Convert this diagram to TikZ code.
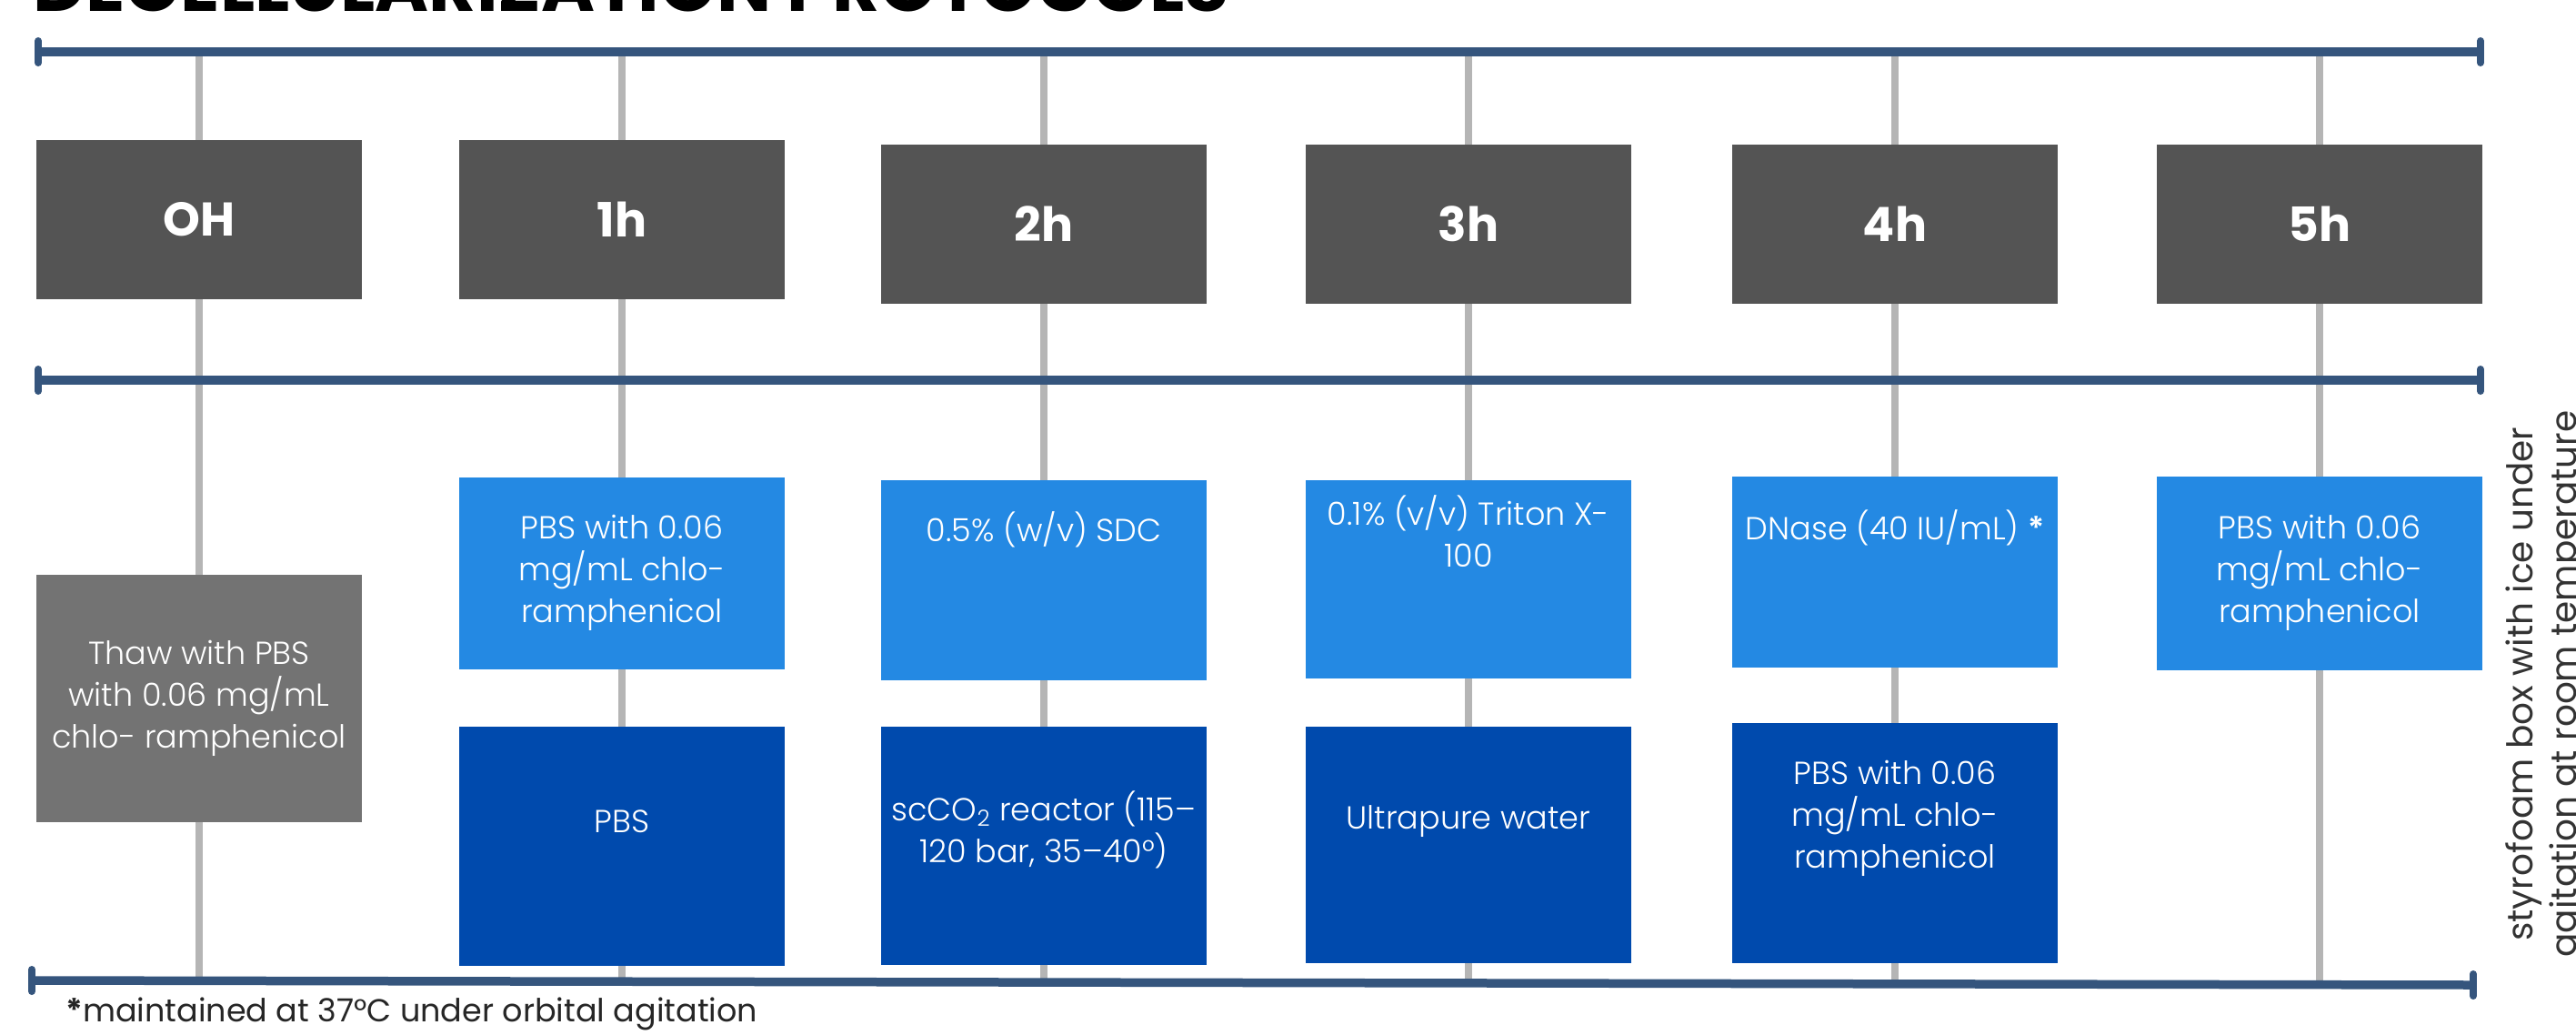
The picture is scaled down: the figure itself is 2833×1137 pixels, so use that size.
\documentclass[tikz,border=0pt]{standalone}
\usepackage{fontspec}
\setmainfont{Poppins}
\newfontfamily\lightfont{Poppins Light}
\usetikzlibrary{positioning}

\definecolor{barblue}{RGB}{53,85,125}
\definecolor{stemgray}{RGB}{181,181,181}
\definecolor{hourgray}{RGB}{84,84,84}
\definecolor{thawgray}{RGB}{115,115,115}
\definecolor{washblue}{RGB}{36,137,227}
\definecolor{deepblue}{RGB}{0,74,173}

\tikzset{
    bar/.style={barblue,line width=4.75pt},
    barend/.style={barblue,line width=4pt,line cap=round},
    stem/.style={stemgray,line width=4pt},
    hourbox/.style={fill=hourgray,text=white,inner sep=0pt,
        minimum width=179pt,minimum height=87.5pt,
        font=\bfseries\fontsize{26}{30}\selectfont},
    stepbox/.style={inner sep=0pt,minimum width=179pt,minimum height=#1},
    boxtext/.style={text=white,align=center,inner sep=0pt,
        font=\lightfont\fontsize{17.5}{23}\selectfont},
}

\begin{document}
\begin{tikzpicture}[x=0.5pt,y=-0.5pt]
    \path[use as bounding box,fill=white] (0,0) rectangle (2833,1137);
    \clip (0,0) rectangle (2833,1137);

    % ends of the three bars
    \coordinate (topL) at (42,57);   \coordinate (topR) at (2728,57);
    \coordinate (midL) at (42,418);  \coordinate (midR) at (2728,418);
    \coordinate (botL) at (35,1078); \coordinate (botR) at (2720,1083);

    % one column per hour
    \foreach \n/\x in {0/219,1/684,2/1148,3/1615,4/2084,5/2551}
        \coordinate (c\n) at (\x,0);

    \foreach \n in {0,...,5}
        \draw[stem] (c\n |- topL) -- (c\n |- botR);

    \foreach \a/\b in {topL/topR,midL/midR,botL/botR}{
        \draw[bar] (\a) -- (\b);
        \draw[barend] ([yshift=6pt]\a) -- ([yshift=-6pt]\a);
        \draw[barend] ([yshift=6pt]\b) -- ([yshift=-6pt]\b);
    }

    \node[anchor=base west,inner sep=0pt,font=\bfseries\fontsize{40}{44}\selectfont]
        (title) at (36,12) {DECELLULARIZATION PROTOCOLS};

    % hours
    \foreach \n/\y/\t in {0/241/OH,1/241/1h,2/246/2h,3/246/3h,4/246/4h,5/246/5h}
        \node[hourbox] (h\n) at (c\n |- 0,\y) {\t};

    % 0h
    \node[stepbox=136pt,fill=thawgray,boxtext] (thaw) at (c0 |- 0,768)
        {Thaw with PBS\\with 0.06 mg/mL\\chlo- ramphenicol};

    % first solution
    \node[stepbox=105.5pt,fill=washblue,boxtext] (w1) at (c1 |- 0,630)
        {PBS with 0.06\\mg/mL chlo-\\ramphenicol};
    \node[stepbox=110pt,fill=washblue] (w2) at (c2 |- 0,638) {};
    \node[stepbox=109pt,fill=washblue] (w3) at (c3 |- 0,637) {};
    \node[stepbox=105pt,fill=washblue] (w4) at (c4 |- 0,629) {};
    \node[stepbox=106.5pt,fill=washblue,boxtext] (w5) at (c5 |- 0,630)
        {PBS with 0.06\\mg/mL chlo-\\ramphenicol};
    \node[boxtext] (w2txt) at (c2 |- 0,582) {0.5\% (w/v) SDC};
    \node[boxtext] (w3txt) at (c3 |- 0,584) {0.1\% (v/v) Triton X-\\100};
    \node[boxtext] (w4txt) at (c4 |- 0,580) {DNase (40 IU/mL) \textbf{*}};

    % second solution
    \node[stepbox=131.5pt,fill=deepblue] (r1) at (c1 |- 0,930) {};
    \node[stepbox=131pt,fill=deepblue] (r2) at (c2 |- 0,930) {};
    \node[stepbox=130pt,fill=deepblue] (r3) at (c3 |- 0,929) {};
    \node[stepbox=132pt,fill=deepblue] (r4) at (c4 |- 0,927) {};
    \node[boxtext] (r1txt) at (c1 |- 0,903) {PBS};
    \node[boxtext] (r2txt) at (c2 |- 0,912) {scCO\textsubscript{2} reactor (115–\\120 bar, 35–40°)};
    \node[boxtext] (r3txt) at (c3 |- 0,903) {Ultrapure water};
    \node[boxtext] (r4txt) at (c4 |- 0,900) {PBS with 0.06\\mg/mL chlo-\\ramphenicol};

    \node[rotate=90,align=center,inner sep=0pt,text=black!80,
        font=\fontsize{19.5}{24}\selectfont] (side) at (2800,752)
        {styrofoam box with ice under\\agitation at room temperature};

    \node[anchor=base west,inner sep=0pt,text=black!85,
        font=\fontsize{17.5}{21}\selectfont] (foot) at (72,1123)
        {\textbf{*}maintained at 37°C under orbital agitation};
\end{tikzpicture}
\end{document}
